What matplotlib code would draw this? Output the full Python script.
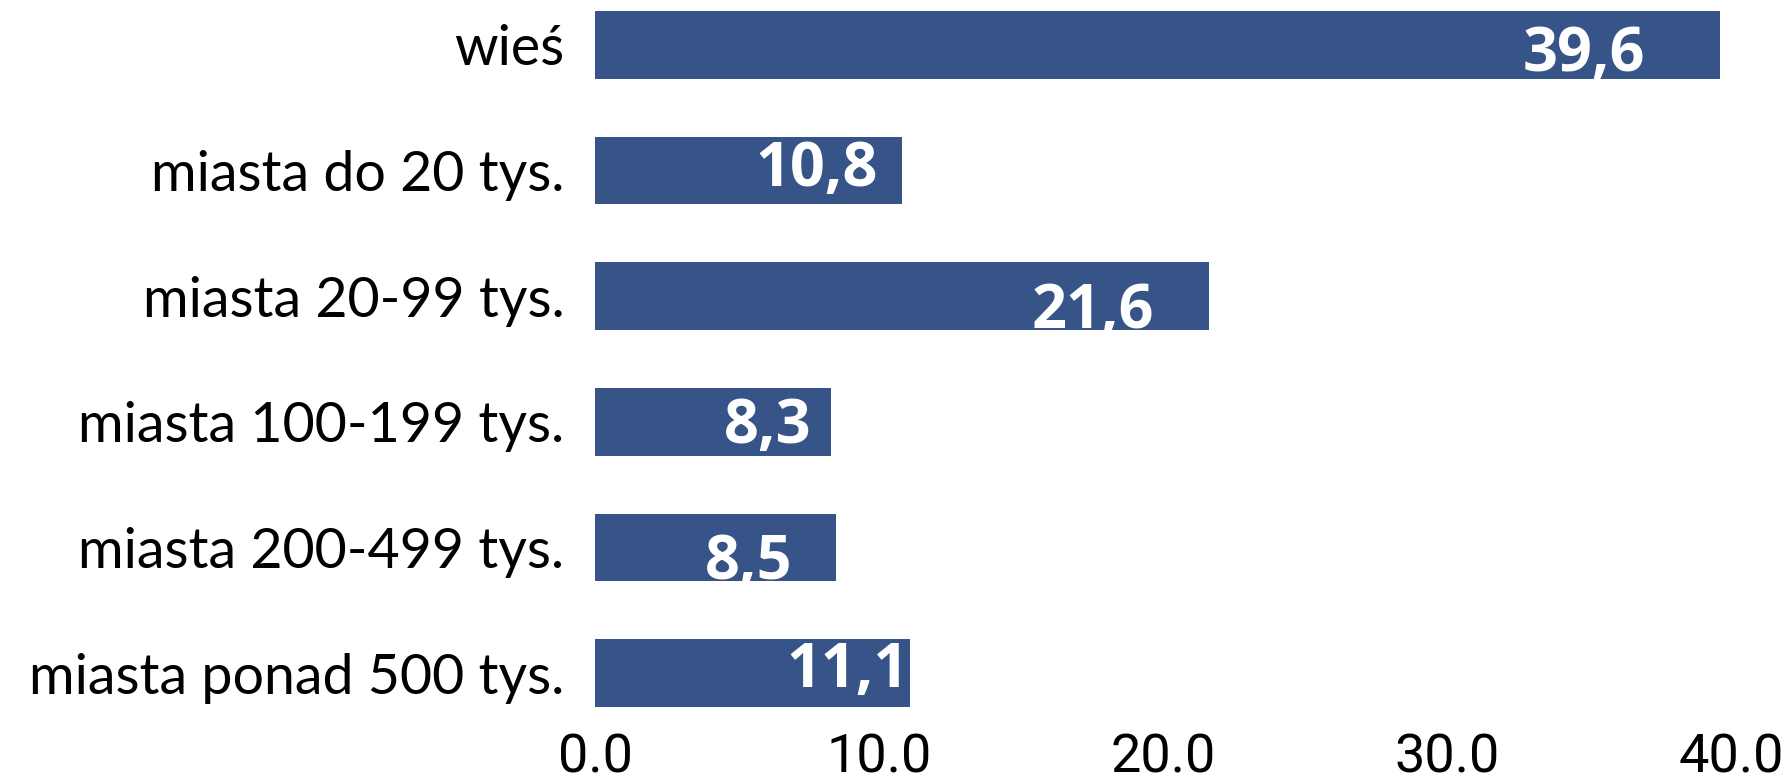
import numpy as np
import matplotlib
matplotlib.use("Agg")
import matplotlib.pyplot as plt

categories = ['wieś', 'miasta do 20 tys.', 'miasta 20-99 tys.', 'miasta 100-199 tys.',
              'miasta 200-499 tys.', 'miasta ponad 500 tys.']
values = [39.6, 10.8, 21.6, 8.3, 8.5, 11.1]
value_labels = ['39,6', '10,8', '21,6', '8,3', '8,5', '11,1']
xticks = [0, 10, 20, 30, 40]

BAR = '#365488'

fig = plt.figure(figsize=(17.87, 7.81), dpi=100)
ax = fig.add_axes([0.333, 0.0947, 0.6357, 0.8912])

y = np.arange(len(categories))
ax.barh(y, values, height=0.54, color=BAR)
ax.set_ylim(5.27, -0.27)
ax.set_xlim(0, 40)

# label placement (offsets in points from bar end / bar centre to baseline)
offs = [(-54, -18.5), (-17, -11), (-39, -23), (-14, -15), (-32, -23), (-1, -10)]
for yi, v, lab, (dx, dy) in zip(y, values, value_labels, offs):
    ax.annotate(lab, (v, yi), xytext=(dx, dy), textcoords='offset points',
                ha='right', va='baseline', color='white', fontsize=44,
                fontweight='bold', family='Open Sans')

ax.set_yticks(y)
ax.set_yticklabels(categories, family='Lato', fontsize=40)
ax.set_xticks(xticks)
ax.set_xticklabels(['%.1f' % t for t in xticks], family='Roboto', fontsize=39)
ax.tick_params(axis='y', length=0, pad=22)
ax.tick_params(axis='x', length=0, pad=18)
for s in ax.spines.values():
    s.set_visible(False)

fig.savefig('out.png', dpi=100)
